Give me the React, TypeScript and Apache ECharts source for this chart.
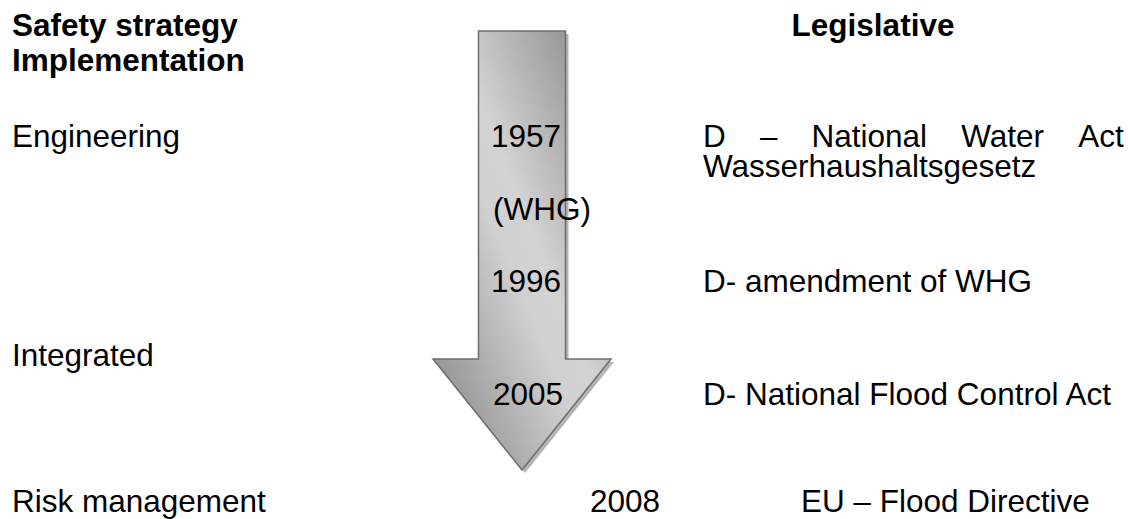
import React, { useEffect, useRef } from "react";
import * as echarts from "echarts";

// ---- content ----
const headerLeft = ["Safety strategy", "Implementation"];
const headerRight = ["Legislative"];
const strategies = ["Engineering", "Integrated", "Risk management"];
const years = ["1957", "(WHG)", "1996", "2005", "2008"];
const legislationFirst = ["D", "–", "National", "Water", "Act"];
const legislationFirstSub = "Wasserhaushaltsgesetz";
const legislation = ["D- amendment of WHG", "D- National Flood Control Act", "EU – Flood Directive"];

// ---- layout ----
const W = 1128;
const H = 519;
const FONT_FAMILY = "'Liberation Sans', Arial, Helvetica, sans-serif";
const FS = 31.5;
const LEFT_X = 12;
const MID_X = 491;
const RIGHT_X = 703;
const headerLeftBaselines = [36, 71];
const headerRightCenterX = 873;
const strategyBaselines = [147, 366, 512];
const yearPos = [
  { x: MID_X, b: 147 },
  { x: MID_X + 2, b: 220 },
  { x: MID_X, b: 292 },
  { x: MID_X + 2, b: 405 },
  { x: 590, b: 512 },
];
const firstBaseline = 147;
const firstLineHeight = 30;
const legislationPos = [
  { x: RIGHT_X, b: 292 },
  { x: RIGHT_X, b: 405 },
  { x: 801, b: 512 },
];
const arrow = { cx: 522, shaftHalf: 43.5, headHalf: 89, top: 31, shoulder: 359, tip: 470 };

function txt(text: string, x: number, baseline: number, weight = "normal", align = "left") {
  return {
    type: "text",
    z: 10,
    x,
    y: baseline - 0.347 * FS,
    style: {
      text,
      fill: "#000000",
      font: `${weight} ${FS}px ${FONT_FAMILY}`,
      align,
      verticalAlign: "middle",
    },
  };
}

export default function App() {
  const ref = useRef<HTMLDivElement>(null);
  useEffect(() => {
    if (!ref.current) return;
    const chart = echarts.init(ref.current, undefined, { renderer: "svg", width: W, height: H });
    const { cx, shaftHalf, headHalf, top, shoulder, tip } = arrow;
    const pts = [
      [cx - shaftHalf, top],
      [cx + shaftHalf, top],
      [cx + shaftHalf, shoulder],
      [cx + headHalf, shoulder],
      [cx, tip],
      [cx - headHalf, shoulder],
      [cx - shaftHalf, shoulder],
    ];
    const shadowPts = pts.map(([x, y]) => [x + 3, y + 3]);

    // justified first line (em spaces), wrapped second line in the same text block
    const firstBlock = {
      type: "text",
      z: 10,
      x: RIGHT_X,
      y: firstBaseline - firstLineHeight / 2 - 0.347 * FS,
      style: {
        text: legislationFirst.join("\u2003\u200A") + "\n" + legislationFirstSub,
        fill: "#000000",
        font: `normal ${FS}px ${FONT_FAMILY}`,
        lineHeight: firstLineHeight,
        align: "left",
        verticalAlign: "top",
      },
    };

    const elements: any[] = [
      { type: "polygon", z: 1, shape: { points: shadowPts }, style: { fill: "#b4b4b4" } },
      {
        type: "polygon",
        z: 2,
        shape: { points: pts },
        style: {
          fill: new echarts.graphic.LinearGradient(1, 0, 0, 1, [
            { offset: 0, color: "#808080" },
            { offset: 0.45, color: "#d3d3d3" },
            { offset: 0.55, color: "#d0d0d0" },
            { offset: 1, color: "#808080" },
          ]),
          stroke: "#6e6e6e",
          lineWidth: 1.5,
        },
      },
      ...headerLeft.map((t, i) => txt(t, LEFT_X, headerLeftBaselines[i], "bold")),
      txt(headerRight[0], headerRightCenterX, 36, "bold", "center"),
      ...strategies.map((t, i) => txt(t, LEFT_X, strategyBaselines[i])),
      ...years.map((t, i) => txt(t, yearPos[i].x, yearPos[i].b)),
      firstBlock,
      ...legislation.map((t, i) => txt(t, legislationPos[i].x, legislationPos[i].b)),
    ];

    chart.setOption({
      animation: false,
      backgroundColor: "#ffffff",
      graphic: { elements },
    });
    return () => chart.dispose();
  }, []);
  return (
    <div
      ref={ref}
      style={{ position: "fixed", left: 0, top: 0, width: W, height: H, background: "#fff" }}
    />
  );
}
